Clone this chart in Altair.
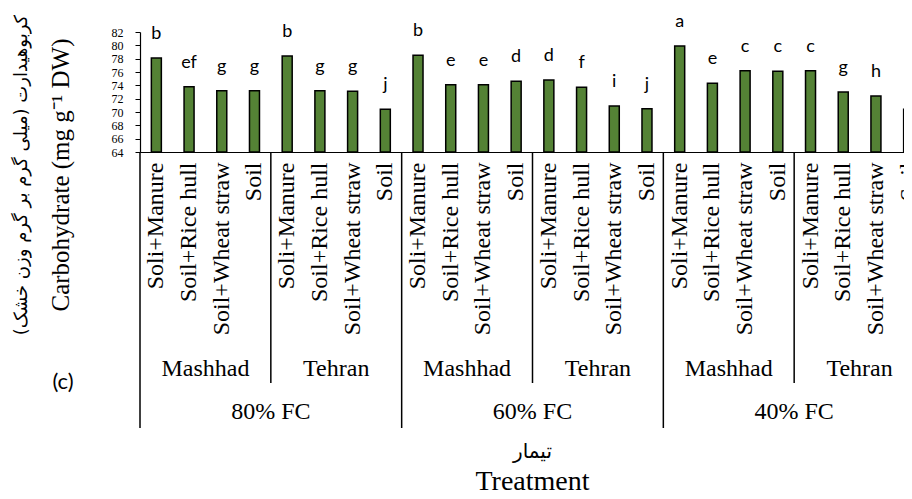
import altair as alt
import pandas as pd

fc_levels = ["80% FC", "60% FC", "40% FC"]
sites = ["Mashhad", "Tehran"]
treatments = ["Soli+Manure", "Soil+Rice hull", "Soil+Wheat straw", "Soil"]
carbohydrate = [78.1, 73.8, 73.2, 73.2, 78.4, 73.2, 73.1, 70.4,
                78.5, 74.1, 74.1, 74.6, 74.8, 73.7, 70.9, 70.5,
                79.9, 74.3, 76.2, 76.1, 76.2, 73.0, 72.4, 70.4]
letters = ["b", "ef", "g", "g", "b", "g", "g", "j",
           "b", "e", "e", "d", "d", "f", "i", "j",
           "a", "e", "c", "c", "c", "g", "h", "j"]
y_ticks = [64, 66, 68, 70, 72, 74, 76, 78, 80, 82]
y_title_fa = "کربوهیدارت (میلی گرم بر گرم وزن خشک)"
y_title_en = "Carbohydrate (mg g⁻¹ DW)"
x_title_fa = "تیمار"
x_title_en = "Treatment"
panel_tag = "(c)"

SERIF = "Liberation Serif, Times New Roman, serif"

rows = []
i = 0
for fc in fc_levels:
    for site in sites:
        for t in treatments:
            rows.append(dict(key=f"{fc}|{site}|{t}", fc=fc, site=site, trt=t,
                             value=carbohydrate[i], letter=letters[i]))
            i += 1
df = pd.DataFrame(rows)
keys = list(df["key"])

site_lab = df[df.trt == treatments[1]]
fc_lab = df[(df.site == sites[0]) & (df.trt == treatments[3])]
site_sep = df[(df.site == sites[1]) & (df.trt == treatments[0])]
fc_sep = df[(df.site == sites[0]) & (df.trt == treatments[0])]

W = 785
H = 120

x_scale = alt.Scale(domain=keys, paddingInner=0, paddingOuter=0)
x_axis = alt.Axis(labelExpr="split(datum.value, '|')[2]", labelAngle=270,
                  labelAlign="right", labelBaseline="middle",
                  labelFont=SERIF, labelFontSize=24, labelColor="black",
                  labelPadding=10, labelLimit=400, ticks=False, tickSize=0,
                  domainColor="black", domainWidth=1, grid=False)


def X(bp=None):
    if bp is None:
        return alt.X("key:N", scale=x_scale, axis=x_axis, title=None)
    return alt.X("key:N", scale=x_scale, axis=x_axis, title=None, bandPosition=bp)


Y = alt.Y("value:Q",
          scale=alt.Scale(domain=[64, 82], zero=False, nice=False),
          axis=alt.Axis(values=y_ticks, labelFont=SERIF, labelFontSize=12,
                        labelColor="black", labelPadding=12, tickSize=5, tickColor="black",
                        domainColor="black", domainWidth=1.2, grid=False),
          title=None)

bars = alt.Chart(df).mark_bar(size=10, fill="#548235", stroke="black", strokeWidth=1.5).encode(
    x=X(), y=Y, y2=alt.datum(64))

lett = alt.Chart(df).mark_text(dy=-19, baseline="alphabetic", font="Lato", fontSize=18,
                               color="black").encode(x=X(), y=Y, text="letter:N")

site_text = alt.Chart(site_lab).mark_text(font=SERIF, fontSize=24,
                                          baseline="middle", color="black").encode(
    x=X(1), y=alt.value(337), text="site:N")

fc_text = alt.Chart(fc_lab).mark_text(font=SERIF, fontSize=24,
                                      baseline="middle", color="black").encode(
    x=X(1), y=alt.value(380), text="fc:N")

site_rules = alt.Chart(site_sep).mark_rule(color="black", strokeWidth=1.5).encode(
    x=X(0), y=alt.value(H), y2=alt.value(351))

fc_rules = alt.Chart(fc_sep).mark_rule(color="black", strokeWidth=1.5).encode(
    x=X(0), y=alt.value(H), y2=alt.value(396))

one = pd.DataFrame({"t": [0]})
ytf = alt.Chart(one).mark_text(text=y_title_fa, angle=270, font="DejaVu Sans", fontSize=18,
                               baseline="middle", align="center", color="black").encode(
    x=alt.value(-118), y=alt.value(143))
yte = alt.Chart(one).mark_text(text=y_title_en, angle=270, font=SERIF, fontSize=25,
                               baseline="middle", align="center", color="black").encode(
    x=alt.value(-79), y=alt.value(143))
xtf = alt.Chart(one).mark_text(text=x_title_fa, font="DejaVu Sans", fontSize=20,
                               baseline="middle", align="center", color="black").encode(
    x=alt.value(W / 2), y=alt.value(420))
xte = alt.Chart(one).mark_text(text=x_title_en, font=SERIF, fontSize=28,
                               baseline="alphabetic", align="center", color="black").encode(
    x=alt.value(W / 2), y=alt.value(458))
tag = alt.Chart(one).mark_text(text=panel_tag, font="Lato", fontSize=22,
                               baseline="middle", align="center", color="black").encode(
    x=alt.value(-77), y=alt.value(350))

chart = alt.layer(bars, lett, site_text, fc_text, site_rules, fc_rules,
                  ytf, yte, xtf, xte, tag).properties(
    width=W, height=H, autosize="none",
    padding={"left": 132, "top": 24, "right": -21, "bottom": 339},
    background="white"
).configure_view(strokeWidth=0)

chart.save("out.html", embed_options={"renderer": "svg", "actions": False})
